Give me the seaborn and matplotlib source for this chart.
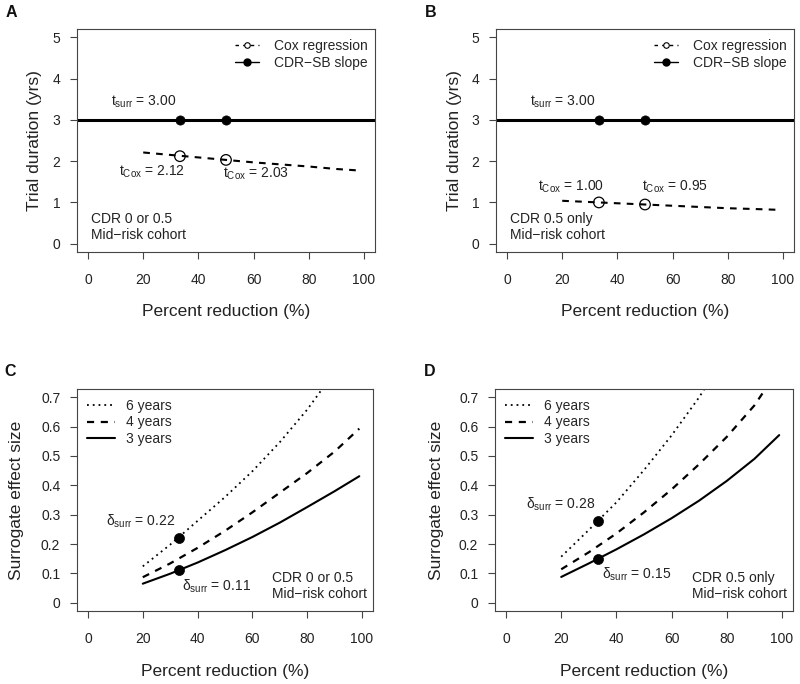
import numpy as np
import pandas as pd
import matplotlib
matplotlib.use('Agg')
import matplotlib.pyplot as plt
import seaborn as sns
from matplotlib.lines import Line2D

# ------------------------------------------------------------
# data
# ------------------------------------------------------------
pct = [20, 30, 40, 50, 60, 70, 80, 90, 99]
marked_pct = [33.3, 50]

# panel A / B : trial duration (yrs)
cox_a = [2.21, 2.15, 2.09, 2.03, 1.97, 1.92, 1.87, 1.81, 1.77]
cox_b = [1.04, 1.01, 0.98, 0.95, 0.92, 0.89, 0.86, 0.84, 0.82]
slope_dur = 3.00
cox_pts_a = [2.12, 2.03]
cox_pts_b = [1.00, 0.95]

# panel C : surrogate effect size, CDR 0 or 0.5
c_3yr = [0.065, 0.099, 0.137, 0.179, 0.224, 0.273, 0.326, 0.380, 0.431]
c_4yr = [0.087, 0.134, 0.187, 0.245, 0.308, 0.375, 0.442, 0.515, 0.593]
c_6yr_x = [20, 30, 40, 50, 60, 70, 80, 86]
c_6yr = [0.124, 0.198, 0.279, 0.360, 0.448, 0.547, 0.658, 0.735]
c_pts = [0.22, 0.11]

# panel D : surrogate effect size, CDR 0.5 only
d_3yr = [0.088, 0.134, 0.182, 0.233, 0.288, 0.348, 0.415, 0.490, 0.571]
d_4yr_x = [20, 30, 40, 50, 60, 70, 80, 90, 94]
d_4yr = [0.114, 0.172, 0.236, 0.308, 0.386, 0.472, 0.565, 0.672, 0.728]
d_6yr_x = [20, 30, 40, 50, 60, 70, 72]
d_6yr = [0.157, 0.248, 0.342, 0.452, 0.570, 0.700, 0.730]
d_pts = [0.28, 0.15]

MINUS = '\u2212'

# ------------------------------------------------------------
# style
# ------------------------------------------------------------
sns.set_style('ticks')
plt.rcParams['font.family'] = ['Liberation Sans', 'DejaVu Sans']
plt.rcParams['mathtext.fontset'] = 'custom'
plt.rcParams['mathtext.rm'] = 'Liberation Sans'
plt.rcParams['mathtext.it'] = 'Liberation Sans:italic'
plt.rcParams['axes.edgecolor'] = '#444444'
plt.rcParams['axes.linewidth'] = 0.8

DASH = (0, (3.2, 3.0))
DOT = (0, (1, 2.2))

fig = plt.figure(figsize=(8, 6.84), dpi=100)
W, H = 800, 684


def add_box(left, right, top, bottom):
    return fig.add_axes([left / W, 1 - bottom / H, (right - left) / W, (bottom - top) / H])


def style_axes(ax, yticks, ylabels, ylab):
    ax.set_xlim(-4, 104)
    ax.set_xticks([0, 20, 40, 60, 80, 100])
    ax.set_yticks(yticks)
    ax.set_yticklabels(ylabels)
    ax.tick_params(direction='out', length=5, width=0.8, color='#444444',
                   labelsize=10, labelcolor='#222222')
    ax.tick_params(axis='x', pad=10)
    ax.tick_params(axis='y', pad=7)
    ax.set_xlabel('Percent reduction (%)', fontsize=12.5, color='#222222')
    ax.set_ylabel(ylab, fontsize=12.5, color='#222222')
    for s in ax.spines.values():
        s.set_visible(True)


axA = add_box(77, 375, 29, 252)
axB = add_box(496, 794, 29, 252)
axC = add_box(77, 373, 389, 611)
axD = add_box(495, 793, 389, 611)

# ------------------------------------------------------------
# panels A and B
# ------------------------------------------------------------
for ax, cox, pts, cohort, labpos in [
        (axA, cox_a, cox_pts_a, 'CDR 0 or 0.5\nMid' + MINUS + 'risk cohort',
         [(23.3, 1.73), (60.8, 1.70)]),
        (axB, cox_b, cox_pts_b, 'CDR 0.5 only\nMid' + MINUS + 'risk cohort',
         [(23.2, 1.39), (60.7, 1.39)])]:
    df = pd.DataFrame({'pct': pct, 'dur': cox})
    ax.axhline(slope_dur, color='black', lw=2.2, zorder=2)
    sns.lineplot(data=df, x='pct', y='dur', ax=ax, color='black', lw=1.5,
                 linestyle=DASH, sort=False, zorder=2)
    sns.scatterplot(x=marked_pct, y=[slope_dur] * 2, ax=ax, color='black',
                    s=44, edgecolor='black', linewidth=0.5, zorder=4)
    sns.scatterplot(x=marked_pct, y=pts, ax=ax, marker='o', s=58,
                    facecolor='none', edgecolor='black', linewidth=0.9, zorder=4)
    ax.set_ylim(-0.2, 5.2)
    style_axes(ax, [0, 1, 2, 3, 4, 5], ['0', '1', '2', '3', '4', '5'],
               'Trial duration (yrs)')
    ax.text(20, 3.44, r'$\mathrm{t_{surr}}$ = %.2f' % slope_dur, ha='center',
            va='center', fontsize=10, color='#222222')
    for (tx, ty), v in zip(labpos, pts):
        ax.text(tx, ty, r'$\mathrm{t_{Cox}}$ = %.2f' % v, ha='center',
                va='center', fontsize=10, color='#222222')
    ax.text(1.2, 0.41, cohort, ha='left', va='center', fontsize=10,
            linespacing=1.2, color='#222222')
    handles = [
        Line2D([], [], color='black', lw=1.0, linestyle=(0, (2.5, 3)), marker='o',
               ms=4, mfc='white', mec='black', mew=0.8),
        Line2D([], [], color='black', lw=1.0, marker='o', ms=5, mfc='black',
               mec='black'),
    ]
    ax.legend(handles, ['Cox regression', 'CDR' + MINUS + 'SB slope'],
              loc='upper right', bbox_to_anchor=(1.0, 0.985), frameon=False,
              fontsize=10, handlelength=1.7, handletextpad=1.1,
              labelspacing=0.22, borderaxespad=0.2, borderpad=0.3)

axA.yaxis.set_label_coords(-0.117, 0.5)
axB.yaxis.set_label_coords(-0.114, 0.5)
for ax in (axA, axB):
    ax.xaxis.set_label_coords(0.5, -0.235)

# ------------------------------------------------------------
# panels C and D
# ------------------------------------------------------------
for ax, s3, s4x, s4, s6x, s6, pts, cohort, labpos in [
        (axC, c_3yr, pct, c_4yr, c_6yr_x, c_6yr, c_pts,
         'CDR 0 or 0.5\nMid' + MINUS + 'risk cohort', [(19.1, 0.278), (46.8, 0.056)]),
        (axD, d_3yr, d_4yr_x, d_4yr, d_6yr_x, d_6yr, d_pts,
         'CDR 0.5 only\nMid' + MINUS + 'risk cohort', [(19.7, 0.334), (47.5, 0.096)])]:
    sns.lineplot(x=s6x, y=s6, ax=ax, color='black', lw=1.3, linestyle=DOT,
                 sort=False, label='6 years')
    sns.lineplot(x=s4x, y=s4, ax=ax, color='black', lw=1.6, linestyle=DASH,
                 sort=False, label='4 years')
    sns.lineplot(x=pct, y=s3, ax=ax, color='black', lw=1.5, sort=False,
                 label='3 years')
    sns.scatterplot(x=[marked_pct[0]] * 2, y=pts, ax=ax, color='black', s=52,
                    edgecolor='black', linewidth=0.5, zorder=4, legend=False)
    ax.set_ylim(-0.028, 0.728)
    yt = [0, 0.1, 0.2, 0.3, 0.4, 0.5, 0.6, 0.7]
    style_axes(ax, yt, ['0'] + ['%.1f' % v for v in yt[1:]],
               'Surrogate effect size')
    for (tx, ty), v in zip(labpos, pts):
        ax.text(tx, ty, r'$\mathrm{\delta_{surr}}$ = %.2f' % v, ha='center',
                va='center', fontsize=10, color='#222222')
    ax.text(67.3, 0.056, cohort, ha='left', va='center', fontsize=10,
            linespacing=1.2, color='#222222')
    ax.legend(loc='upper left', frameon=False, fontsize=10, handlelength=2.0,
              handletextpad=0.8, labelspacing=0.2, borderaxespad=0.3,
              borderpad=0.4)

axC.yaxis.set_label_coords(-0.179, 0.5)
axD.yaxis.set_label_coords(-0.171, 0.5)
for ax in (axC, axD):
    ax.xaxis.set_label_coords(0.5, -0.24)

# panel letters
for lab, px, py in [('A', 11, 12.5), ('B', 431, 12.5), ('C', 10, 371), ('D', 430, 371)]:
    fig.text(px / W, 1 - py / H, lab, ha='center', va='center', fontsize=11.5,
             fontweight='bold', color='#111111')

fig.savefig('out.png', dpi=100)
